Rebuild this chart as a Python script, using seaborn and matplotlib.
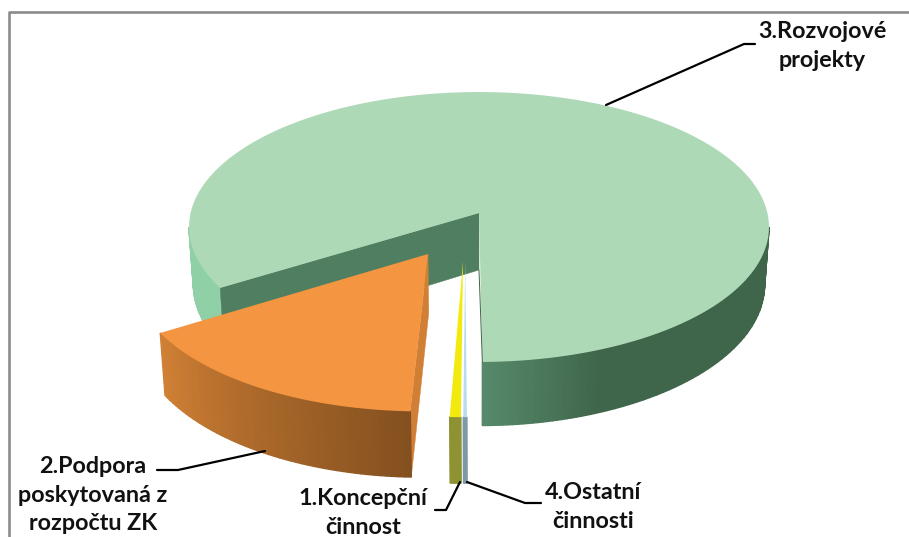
import numpy as np
import matplotlib
matplotlib.use("Agg")
import matplotlib.pyplot as plt
import seaborn as sns

# Data, share of each activity in percent (clockwise from 1.)
labels = ["1.Koncepční\nčinnost", "2.Podpora\nposkytovaná z\nrozpočtu ZK", "3.Rozvojové\nprojekty", "4.Ostatní\nčinnosti"]
shares = [0.55, 15.55, 83.72, 0.18]
first_angle = 180.05

# how each slice is pulled out of the pie (plane units) and its radius
offset_u = [-0.0534, -0.1714, 0.0, -0.0462]
offset_v = [-0.35, -0.2976, 0.0, -0.35]
radii = [0.97, 0.99, 1.0, 0.97]

# projection of the pie plane to picture pixels
cx, cy = 479, 213
scale_x, scale_y = 288.4, 133.5
persp = 0.1037
depth = 57
shrink = 0.985


def project(u, v, low=False):
    w = 1 + persp * v
    x = cx + scale_x * u / w
    y = cy - scale_y * v / w
    if low:
        x = cx + (x - cx) * shrink
        y = y + depth / w
    return x, y


def rim(i, a0, a1, low=False, n=120):
    t = np.radians(np.linspace(a0, a1, n))
    u = offset_u[i] + radii[i] * np.sin(t)
    v = offset_v[i] + radii[i] * np.cos(t)
    return project(u, v, low)


def apex(i, low=False):
    return project(offset_u[i], offset_v[i], low)


def side(ax, i, a0, a1, colors):
    # outer side of a slice, one small quad per colour
    edges = np.linspace(a0, a1, len(colors) + 1)
    for k, c in enumerate(colors):
        xt, yt = rim(i, edges[k], edges[k + 1], n=4)
        xb, yb = rim(i, edges[k], edges[k + 1], low=True, n=4)
        ax.fill(np.r_[xt, xb[::-1]], np.r_[yt, yb[::-1]], color=c, lw=1.0)


def wall(ax, i, angle, color):
    x0, y0 = apex(i)
    x1, y1 = apex(i, low=True)
    xt, yt = rim(i, angle, angle, n=1)
    xb, yb = rim(i, angle, angle, low=True, n=1)
    ax.fill([x0, xt[0], xb[0], x1], [y0, yt[0], yb[0], y1], color=color, lw=0.3)


def top(ax, i, a0, a1, color):
    xr, yr = rim(i, a0, a1, n=400)
    x0, y0 = apex(i)
    ax.fill(np.r_[x0, xr], np.r_[y0, yr], color=color, lw=0)


# slice limits from the shares
spans = np.array(shares) * 3.6
starts = first_angle + np.r_[0, np.cumsum(spans)[:-1]]
ends = starts + spans

sns.set_theme(style="white")
plt.rcParams['font.family'] = ['Lato', 'DejaVu Sans']

fig = plt.figure(figsize=(9.09, 5.37), dpi=100)
ax = fig.add_axes([0, 0, 1, 1])
ax.set_xlim(0, 909)
ax.set_ylim(537, 0)
ax.axis('off')

# chart frame, only top and left are inside the crop
ax.plot([8.5, 8.5, 909], [537, 11.5, 11.5], color='#8c8c8c', lw=1.9)

# 3. big slice, back parts first
s3, e3 = starts[2], ends[2]
side(ax, 2, s3, 264, ['#8fd0a6'] * 20)
wall(ax, 2, s3, '#4f7f60')
grad = sns.blend_palette(['#3f654a', '#55896a'], 24)
side(ax, 2, 96, e3 - 360 - 22, ['#3f654a'] * 40)
side(ax, 2, e3 - 360 - 22, e3 - 360, grad)
top(ax, 2, s3, e3, '#aed9b6')

# thin dark edge along the cut on the right of the gap
xe, ye = rim(2, e3, e3, n=1)
xa, ya = apex(2, low=True)
ax.plot([xa, xe[0]], [ya, ye[0]], color='#3f654a', lw=0.7)

# 2. pulled out slice
s2, e2 = starts[1], ends[1]
wall(ax, 1, s2, '#d07f35')
side(ax, 1, s2, e2, sns.blend_palette(['#84501f', '#d08035'], 50))
top(ax, 1, s2, e2, '#f49541')

# 1. and 4. slivers
side(ax, 3, starts[3] - 360, ends[3] - 360, ['#7f98a5'] * 2)
top(ax, 3, starts[3] - 360, ends[3] - 360, '#b9dcec')
side(ax, 0, starts[0], ends[0], ['#8e9233'] * 3)
top(ax, 0, starts[0], ends[0], '#f2ea0d')

# leader lines
ax.plot([606, 744, 755], [105, 44, 44], color='black', lw=1.6)
ax.plot([157, 178, 265], [470, 470, 451], color='black', lw=1.6)
ax.plot([435, 446, 460], [510, 510, 482], color='black', lw=1.6)
ax.plot([467, 525, 541], [482, 503, 503], color='black', lw=1.6)

# labels
label_x = [363, 93, 822, 593]
label_y = [513, 495, 46, 507]
for txt, x, y in zip(labels, label_x, label_y):
    ax.text(x, y, txt, ha='center', va='center', fontsize=16.8, fontweight='bold',
            color='#111111', linespacing=1.42)

fig.savefig("out.png", dpi=100)
